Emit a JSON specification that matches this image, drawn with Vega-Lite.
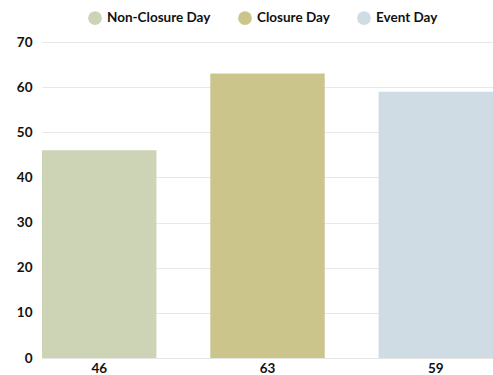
{
  "$schema": "https://vega.github.io/schema/vega-lite/v6.json",
  "width": 451,
  "height": 316,
  "autosize": {"type": "none"},
  "padding": {"left": 42, "right": 0, "top": 42, "bottom": 17},
  "background": "white",
  "config": {
    "view": {"stroke": null},
    "font": "Lato"
  },
  "data": {
    "values": [
      {"day": "Non-Closure Day", "label": "46", "value": 46},
      {"day": "Closure Day", "label": "63", "value": 63},
      {"day": "Event Day", "label": "59", "value": 59}
    ]
  },
  "mark": {"type": "bar"},
  "encoding": {
    "x": {
      "field": "label",
      "type": "nominal",
      "sort": ["46", "63", "59"],
      "scale": {"paddingInner": 0.32, "paddingOuter": 0},
      "axis": {
        "title": null,
        "labelAngle": 0,
        "labelFont": "Lato",
        "labelFontWeight": "bold",
        "labelFontSize": 13.5,
        "labelColor": "#111111",
        "labelPadding": 3,
        "ticks": false,
        "domainColor": "#e6e6e6"
      }
    },
    "y": {
      "field": "value",
      "type": "quantitative",
      "stack": null,
      "scale": {"domain": [0, 70]},
      "axis": {
        "title": null,
        "values": [0, 10, 20, 30, 40, 50, 60, 70],
        "labelFont": "Lato",
        "labelFontWeight": "bold",
        "labelFontSize": 13.5,
        "labelColor": "#111111",
        "labelPadding": 10,
        "ticks": false,
        "domain": false,
        "gridColor": "#e8e8e8"
      }
    },
    "color": {
      "field": "day",
      "type": "nominal",
      "scale": {
        "domain": ["Non-Closure Day", "Closure Day", "Event Day"],
        "range": ["#cdd4b5", "#cbc58c", "#cfdce4"]
      },
      "legend": {
        "title": null,
        "orient": "none",
        "legendX": 46,
        "legendY": -31,
        "direction": "horizontal",
        "symbolType": "circle",
        "symbolSize": 190,
        "symbolOpacity": 1,
        "symbolStrokeWidth": 0,
        "labelFont": "Lato",
        "labelFontWeight": "bold",
        "labelFontSize": 13.5,
        "labelColor": "#111111",
        "labelOffset": 5,
        "columnPadding": 27
      }
    }
  }
}
